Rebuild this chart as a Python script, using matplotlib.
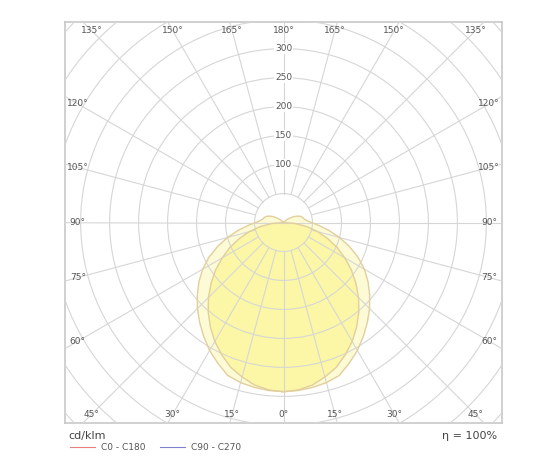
import numpy as np
import matplotlib
matplotlib.use("Agg")
import matplotlib.pyplot as plt
from matplotlib.patches import Circle

gamma = list(range(0, 145, 5))
c0_c180 = [292, 291, 289, 286, 281, 268, 255, 240, 225, 210, 194, 178, 161, 142,
           121, 100, 80, 62, 48, 40, 36, 34, 31, 26, 20, 13, 7, 2, 0]
c90_c270 = [292, 290, 285, 276, 266, 252, 237, 220, 202, 183, 163, 143, 122, 102,
            81, 61, 41, 20, 0, 0, 0, 0, 0, 0, 0, 0, 0, 0, 0]
ring_values = [100, 150, 200, 250, 300]
angle_ticks = list(range(0, 181, 15))

fig = plt.figure(figsize=(5.43, 4.58), dpi=100)
ax = fig.add_axes([65/543, 35/458, 437/543, 401/458])
XL, YL = 377, 346
ax.set_xlim(-XL, XL); ax.set_ylim(-YL, YL)
ax.set_xticks([]); ax.set_yticks([])
for s in ax.spines.values():
    s.set_color("#c8c8c8"); s.set_linewidth(1.2)

def curve(vals):
    g = np.radians(np.array(gamma, float))
    v = np.array(vals, float)
    gg = np.concatenate([-g[::-1], g])
    vv = np.concatenate([v[::-1], v])
    return vv*np.sin(gg), -vv*np.cos(gg)

x1, y1 = curve(c0_c180)
x2, y2 = curve(c90_c270)
ax.fill(x1, y1, color="#fdfbd6", zorder=1)
ax.plot(x1, y1, color="#e2cfa0", lw=1.0, zorder=4)
ax.fill(x2, y2, color="#fcf7a6", zorder=2)
ax.plot(x2, y2, color="#e2cfa0", lw=1.0, zorder=4)

gc = "#d6d6d6"
for r in range(50, 650, 50):
    ax.add_patch(Circle((0, 0), r, fill=False, ec=gc, lw=0.8, zorder=3))
for a in range(0, 360, 15):
    t = np.radians(a)
    r0 = 0 if a in (90, 270) else 50
    ax.plot([r0*np.sin(t), 700*np.sin(t)], [-r0*np.cos(t), -700*np.cos(t)],
            color=gc, lw=0.8, zorder=3)

for r in ring_values:
    ax.text(0, r, str(r), ha="center", va="center", fontsize=6.5, color="#555",
            zorder=5, bbox=dict(fc="white", ec="none", pad=0.5))

ix, iy = XL - 22, YL - 15
for a in angle_ticks:
    for sgn in ([1] if a in (0, 180) else [1, -1]):
        t = np.radians(a)
        dx, dy = sgn*np.sin(t), -np.cos(t)
        s = min(ix/abs(dx) if abs(dx) > 1e-9 else 1e9, iy/abs(dy) if abs(dy) > 1e-9 else 1e9)
        ax.text(dx*s, dy*s, f"{a}°", ha="center", va="center", fontsize=6.5,
                color="#555", zorder=5)

fig.text(68/543, 1-436/458, "cd/klm", fontsize=8, color="#444", va="center")
fig.text(497/543, 1-436/458, "η = 100%", fontsize=8, color="#444", va="center", ha="right")
fig.add_artist(plt.Line2D([70/543, 95/543], [1-447/458]*2, color="#e88080", lw=0.8))
fig.text(101/543, 1-447/458, "C0 - C180", fontsize=6.5, color="#555", va="center")
fig.add_artist(plt.Line2D([160/543, 185/543], [1-447/458]*2, color="#8080d0", lw=0.8))
fig.text(191/543, 1-447/458, "C90 - C270", fontsize=6.5, color="#555", va="center")

fig.savefig("out.png", dpi=100)
